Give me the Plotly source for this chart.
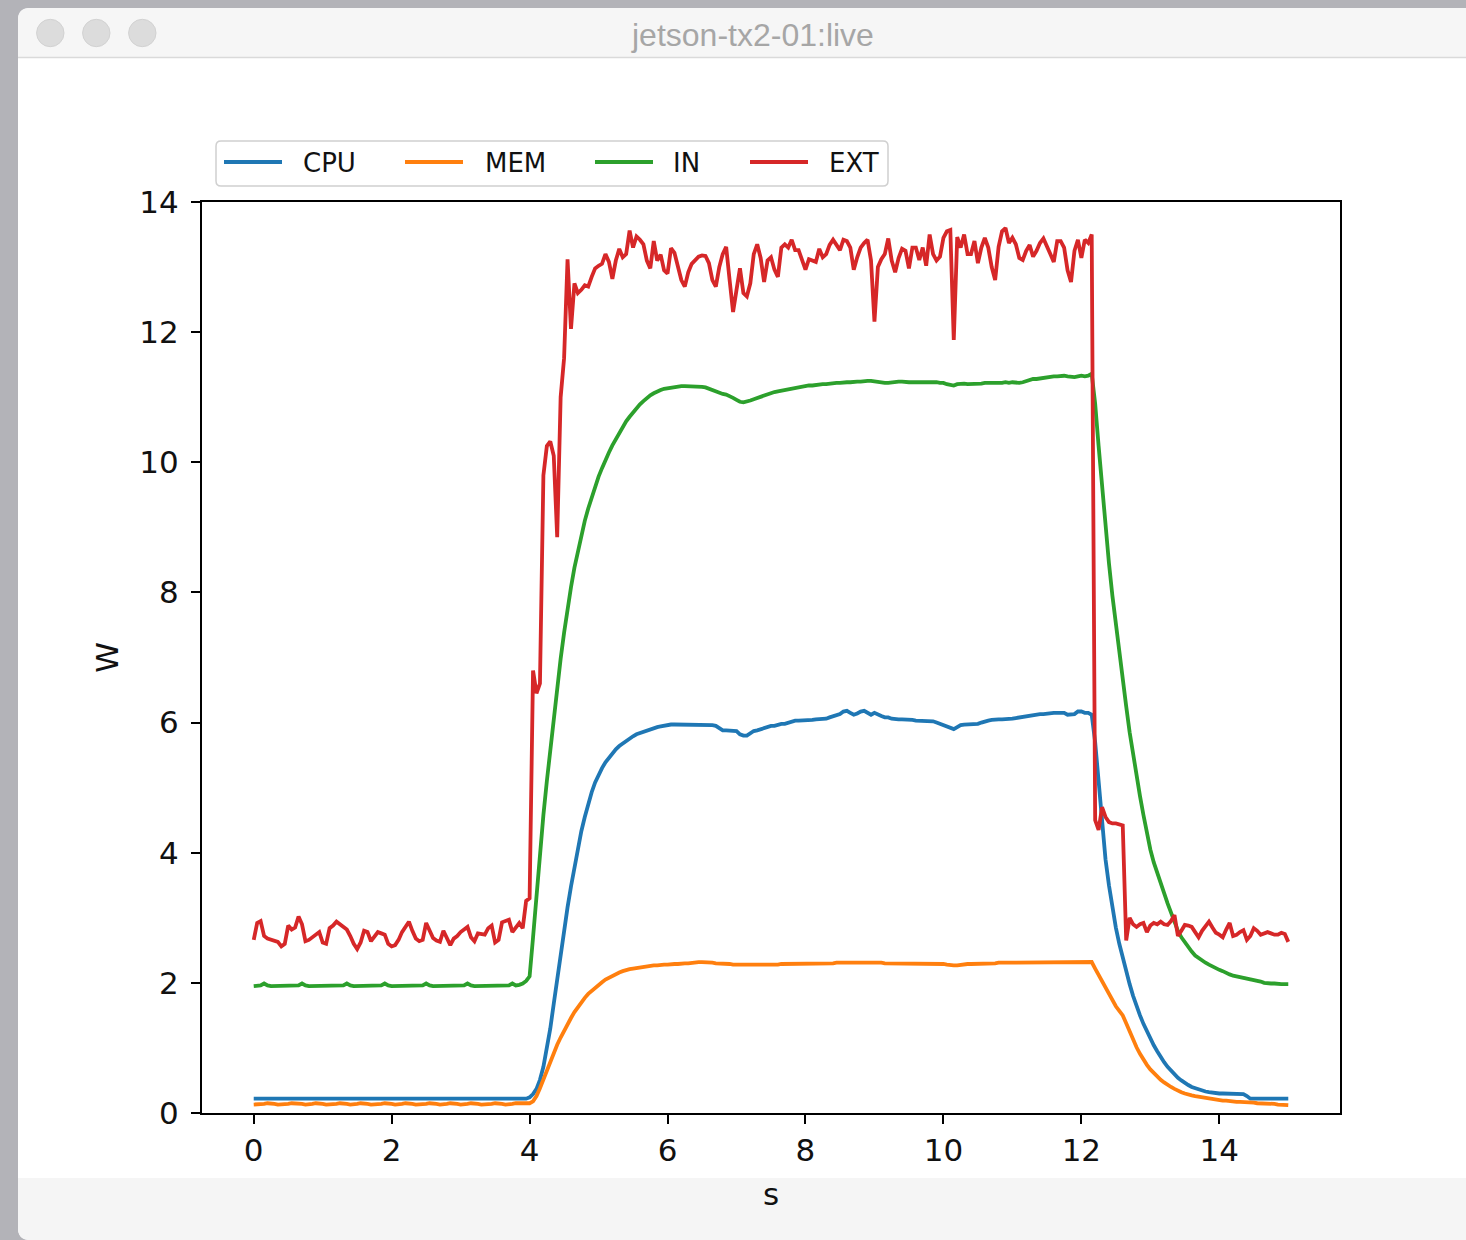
import plotly.graph_objects as go

FIG_W, FIG_H = 1466, 1240

# sample times (s), one sample every 0.05 s from 0 to 15
t = [round(0.05 * i, 2) for i in range(301)]

cpu = [
    0.22, 0.22, 0.22, 0.22, 0.22, 0.22, 0.22, 0.22, 0.22, 0.22, 0.22, 0.22, 0.22, 0.22, 0.22, 0.22, 0.22, 0.22, 0.22, 0.22,
    0.22, 0.22, 0.22, 0.22, 0.22, 0.22, 0.22, 0.22, 0.22, 0.22, 0.22, 0.22, 0.22, 0.22, 0.22, 0.22, 0.22, 0.22, 0.22, 0.22,
    0.22, 0.22, 0.22, 0.22, 0.22, 0.22, 0.22, 0.22, 0.22, 0.22, 0.22, 0.22, 0.22, 0.22, 0.22, 0.22, 0.22, 0.22, 0.22, 0.22,
    0.22, 0.22, 0.22, 0.22, 0.22, 0.22, 0.22, 0.22, 0.22, 0.22, 0.22, 0.22, 0.22, 0.22, 0.22, 0.22, 0.22, 0.22, 0.22, 0.22,
    0.24, 0.29, 0.37, 0.51, 0.71, 0.98, 1.3, 1.68, 2.06, 2.45, 2.82, 3.16, 3.48, 3.79, 4.08, 4.33, 4.55, 4.75, 4.93, 5.08,
    5.2, 5.3, 5.39, 5.46, 5.53, 5.59, 5.64, 5.68, 5.72, 5.76, 5.79, 5.82, 5.84, 5.86, 5.88, 5.9, 5.92, 5.93, 5.94, 5.95,
    5.97, 5.97, 5.97, 5.97, 5.97, 5.97, 5.97, 5.97, 5.97, 5.97, 5.97, 5.97, 5.97, 5.96, 5.95, 5.92, 5.88, 5.88, 5.88, 5.88,
    5.87, 5.82, 5.8, 5.8, 5.84, 5.87, 5.88, 5.9, 5.92, 5.93, 5.95, 5.95, 5.97, 5.98, 5.98, 6.0, 6.02, 6.03, 6.03, 6.03,
    6.03, 6.04, 6.04, 6.05, 6.05, 6.06, 6.06, 6.08, 6.1, 6.12, 6.13, 6.17, 6.18, 6.15, 6.12, 6.14, 6.17, 6.18, 6.15, 6.12,
    6.15, 6.12, 6.1, 6.08, 6.08, 6.06, 6.05, 6.05, 6.05, 6.05, 6.05, 6.04, 6.03, 6.03, 6.02, 6.02, 6.02, 6.02, 6.0, 5.98,
    5.97, 5.95, 5.93, 5.9, 5.93, 5.96, 5.97, 5.97, 5.98, 5.98, 5.98, 6.0, 6.02, 6.03, 6.04, 6.05, 6.05, 6.05, 6.05, 6.05,
    6.06, 6.07, 6.08, 6.08, 6.1, 6.1, 6.12, 6.13, 6.13, 6.13, 6.14, 6.14, 6.15, 6.15, 6.15, 6.15, 6.12, 6.12, 6.13, 6.17,
    6.17, 6.15, 6.15, 6.12, 5.7, 5.1, 4.45, 3.9, 3.5, 3.15, 2.85, 2.6, 2.38, 2.17, 1.98, 1.8, 1.64, 1.5, 1.37, 1.25,
    1.14, 1.04, 0.95, 0.86, 0.78, 0.71, 0.65, 0.59, 0.54, 0.5, 0.46, 0.43, 0.4, 0.38, 0.36, 0.34, 0.33, 0.32, 0.31, 0.3,
    0.3, 0.3, 0.3, 0.3, 0.3, 0.3, 0.3, 0.29, 0.26, 0.22, 0.22, 0.22, 0.22, 0.22, 0.22, 0.22, 0.22, 0.22, 0.22, 0.22,
    0.22,
]

mem = [
    0.13, 0.13, 0.14, 0.14, 0.15, 0.15, 0.14, 0.13, 0.13, 0.13, 0.14, 0.15, 0.15, 0.14, 0.14, 0.13, 0.13, 0.14, 0.15, 0.15,
    0.14, 0.13, 0.13, 0.13, 0.14, 0.15, 0.15, 0.14, 0.13, 0.13, 0.14, 0.15, 0.15, 0.14, 0.13, 0.13, 0.13, 0.14, 0.15, 0.15,
    0.14, 0.13, 0.13, 0.14, 0.15, 0.15, 0.14, 0.13, 0.13, 0.13, 0.14, 0.15, 0.15, 0.14, 0.13, 0.13, 0.14, 0.15, 0.15, 0.14,
    0.13, 0.13, 0.14, 0.15, 0.15, 0.14, 0.13, 0.13, 0.13, 0.14, 0.15, 0.15, 0.14, 0.13, 0.13, 0.14, 0.15, 0.15, 0.14, 0.14,
    0.15, 0.18, 0.26, 0.38, 0.52, 0.66, 0.8, 0.93, 1.05, 1.16, 1.27, 1.37, 1.46, 1.55, 1.63, 1.7, 1.77, 1.83, 1.88, 1.93,
    1.97, 2.01, 2.05, 2.08, 2.11, 2.14, 2.16, 2.18, 2.2, 2.21, 2.22, 2.23, 2.24, 2.25, 2.26, 2.26, 2.27, 2.27, 2.28, 2.28,
    2.28, 2.29, 2.29, 2.29, 2.3, 2.3, 2.3, 2.31, 2.31, 2.32, 2.32, 2.32, 2.31, 2.31, 2.3, 2.3, 2.29, 2.29, 2.29, 2.28,
    2.28, 2.28, 2.27, 2.27, 2.27, 2.28, 2.28, 2.28, 2.27, 2.28, 2.28, 2.28, 2.28, 2.29, 2.29, 2.29, 2.29, 2.29, 2.3, 2.3,
    2.3, 2.3, 2.3, 2.3, 2.3, 2.3, 2.3, 2.3, 2.3, 2.31, 2.31, 2.31, 2.32, 2.31, 2.32, 2.31, 2.31, 2.31, 2.31, 2.31,
    2.31, 2.31, 2.31, 2.3, 2.3, 2.3, 2.3, 2.3, 2.3, 2.3, 2.3, 2.3, 2.3, 2.3, 2.3, 2.3, 2.3, 2.3, 2.29, 2.29,
    2.29, 2.28, 2.27, 2.27, 2.27, 2.28, 2.28, 2.29, 2.29, 2.29, 2.3, 2.3, 2.3, 2.3, 2.3, 2.3, 2.31, 2.31, 2.31, 2.31,
    2.31, 2.31, 2.31, 2.31, 2.31, 2.31, 2.31, 2.31, 2.31, 2.31, 2.32, 2.32, 2.32, 2.32, 2.32, 2.32, 2.32, 2.32, 2.32, 2.32,
    2.32, 2.32, 2.32, 2.32, 2.22, 2.12, 2.02, 1.92, 1.82, 1.72, 1.64, 1.57, 1.5, 1.38, 1.25, 1.12, 1.01, 0.91, 0.82, 0.74,
    0.67, 0.61, 0.56, 0.51, 0.47, 0.43, 0.4, 0.37, 0.34, 0.32, 0.3, 0.28, 0.27, 0.26, 0.25, 0.24, 0.23, 0.22, 0.21, 0.2,
    0.2, 0.19, 0.19, 0.18, 0.18, 0.17, 0.17, 0.17, 0.16, 0.16, 0.16, 0.15, 0.15, 0.15, 0.14, 0.14, 0.14, 0.13, 0.13, 0.13,
    0.12,
]

inp = [
    1.95, 1.95, 1.96, 1.99, 1.96, 1.95, 1.95, 1.95, 1.95, 1.95, 1.95, 1.95, 1.95, 1.96, 1.99, 1.96, 1.95, 1.95, 1.95, 1.95,
    1.95, 1.95, 1.95, 1.95, 1.95, 1.95, 1.96, 1.99, 1.96, 1.95, 1.95, 1.95, 1.95, 1.95, 1.95, 1.95, 1.95, 1.96, 1.99, 1.96,
    1.95, 1.95, 1.95, 1.95, 1.95, 1.95, 1.95, 1.95, 1.95, 1.96, 1.99, 1.96, 1.95, 1.95, 1.95, 1.95, 1.95, 1.95, 1.95, 1.95,
    1.95, 1.96, 1.99, 1.96, 1.95, 1.95, 1.95, 1.95, 1.95, 1.95, 1.95, 1.95, 1.95, 1.95, 1.96, 1.99, 1.96, 1.97, 1.99, 2.03,
    2.1, 2.7, 3.38, 4.0, 4.58, 5.1, 5.6, 6.1, 6.55, 6.98, 7.38, 7.75, 8.08, 8.38, 8.64, 8.88, 9.1, 9.29, 9.46, 9.62,
    9.78, 9.91, 10.04, 10.15, 10.26, 10.36, 10.46, 10.55, 10.63, 10.7, 10.77, 10.83, 10.89, 10.94, 10.99, 11.03, 11.06, 11.09, 11.11, 11.13,
    11.14, 11.15, 11.16, 11.16, 11.17, 11.17, 11.17, 11.17, 11.17, 11.16, 11.16, 11.15, 11.13, 11.1, 11.08, 11.06, 11.05, 11.04, 11.02, 10.99,
    10.96, 10.93, 10.92, 10.93, 10.95, 10.97, 10.99, 11.01, 11.03, 11.05, 11.07, 11.08, 11.09, 11.1, 11.12, 11.13, 11.14, 11.15, 11.16, 11.17,
    11.17, 11.18, 11.18, 11.19, 11.19, 11.2, 11.2, 11.21, 11.21, 11.22, 11.22, 11.23, 11.23, 11.23, 11.24, 11.24, 11.24, 11.25, 11.25, 11.25,
    11.24, 11.24, 11.23, 11.22, 11.22, 11.23, 11.23, 11.24, 11.24, 11.23, 11.23, 11.23, 11.23, 11.24, 11.24, 11.24, 11.23, 11.23, 11.23, 11.22,
    11.22, 11.2, 11.19, 11.18, 11.2, 11.21, 11.21, 11.2, 11.2, 11.2, 11.21, 11.21, 11.22, 11.22, 11.21, 11.21, 11.22, 11.22, 11.23, 11.22,
    11.23, 11.22, 11.22, 11.23, 11.25, 11.27, 11.28, 11.28, 11.29, 11.3, 11.31, 11.31, 11.32, 11.32, 11.33, 11.33, 11.32, 11.31, 11.31, 11.32,
    11.33, 11.32, 11.33, 11.36, 10.9, 10.25, 9.6, 9.0, 8.45, 7.95, 7.5, 7.05, 6.65, 6.25, 5.85, 5.5, 5.17, 4.87, 4.58, 4.3,
    4.05, 3.85, 3.68, 3.53, 3.38, 3.22, 3.07, 2.93, 2.8, 2.7, 2.62, 2.55, 2.48, 2.42, 2.38, 2.34, 2.31, 2.28, 2.25, 2.23,
    2.2, 2.18, 2.15, 2.13, 2.11, 2.1, 2.08, 2.07, 2.06, 2.05, 2.04, 2.03, 2.02, 2.0, 1.99, 1.99, 1.99, 1.98, 1.98, 1.98,
    1.98,
]

ext = [
    2.66, 2.92, 2.95, 2.72, 2.68, 2.66, 2.64, 2.63, 2.56, 2.6, 2.88, 2.82, 2.85, 3.02, 2.9, 2.64, 2.66, 2.7, 2.74, 2.78,
    2.62, 2.6, 2.84, 2.88, 2.94, 2.9, 2.86, 2.82, 2.72, 2.6, 2.52, 2.62, 2.8, 2.78, 2.64, 2.7, 2.78, 2.76, 2.74, 2.6,
    2.56, 2.58, 2.66, 2.78, 2.85, 2.94, 2.8, 2.68, 2.64, 2.66, 2.92, 2.82, 2.69, 2.65, 2.63, 2.8, 2.7, 2.58, 2.68, 2.72,
    2.78, 2.82, 2.86, 2.7, 2.64, 2.76, 2.75, 2.74, 2.84, 2.88, 2.62, 2.66, 2.93, 2.95, 2.97, 2.78, 2.86, 2.92, 2.84, 3.26,
    3.3, 6.8, 6.45, 6.6, 9.8, 10.25, 10.32, 10.1, 8.85, 11.0, 11.6, 13.12, 12.05, 12.75, 12.6, 12.65, 12.72, 12.7, 12.85, 12.98,
    13.02, 13.05, 13.2, 13.08, 12.82, 13.1, 13.28, 13.15, 13.2, 13.56, 13.3, 13.47, 13.42, 13.35, 13.1, 12.98, 13.4, 13.1, 13.19, 12.95,
    12.9, 13.29, 13.22, 13.0, 12.8, 12.7, 12.92, 13.05, 13.11, 13.16, 13.18, 13.17, 13.06, 12.8, 12.7, 13.0, 13.2, 13.31, 12.8, 12.31,
    12.65, 12.98, 12.6, 12.55, 12.75, 13.2, 13.35, 13.14, 12.77, 13.1, 13.15, 12.96, 12.85, 13.3, 13.35, 13.3, 13.42, 13.26, 13.26, 13.1,
    12.96, 13.12, 13.1, 13.08, 13.28, 13.15, 13.2, 13.34, 13.42, 13.33, 13.26, 13.42, 13.4, 13.3, 12.96, 13.15, 13.3, 13.37, 13.42, 13.1,
    12.16, 13.0, 13.12, 13.2, 13.44, 13.1, 12.92, 13.14, 13.28, 13.25, 12.98, 13.3, 13.3, 13.11, 13.3, 13.02, 13.5, 13.2, 13.1, 13.16,
    13.45, 13.55, 13.57, 11.88, 13.46, 13.3, 13.5, 13.2, 13.2, 13.4, 13.06, 13.3, 13.45, 13.3, 13.0, 12.8, 13.31, 13.55, 13.6, 13.37,
    13.45, 13.35, 13.14, 13.11, 13.25, 13.34, 13.16, 13.25, 13.37, 13.44, 13.3, 13.2, 13.08, 13.4, 13.4, 13.3, 12.95, 12.77, 13.25, 13.42,
    13.14, 13.42, 13.37, 13.5, 4.5, 4.35, 4.7, 4.55, 4.47, 4.45, 4.45, 4.44, 4.42, 2.65, 3.0, 2.9, 2.86, 2.9, 2.92, 2.78,
    2.88, 2.92, 2.9, 2.94, 2.9, 2.89, 2.95, 3.04, 2.72, 2.8, 2.89, 2.88, 2.86, 2.78, 2.7, 2.8, 2.88, 2.94, 2.85, 2.77,
    2.74, 2.7, 2.82, 2.92, 2.72, 2.74, 2.78, 2.81, 2.66, 2.72, 2.84, 2.8, 2.74, 2.76, 2.78, 2.76, 2.74, 2.74, 2.77, 2.75,
    2.63,
]

series_names = ["CPU", "MEM", "IN", "EXT"]
series_values = [cpu, mem, inp, ext]
series_colors = ["#1f77b4", "#ff7f0e", "#2ca02c", "#d62728"]

x_ticks = [0, 2, 4, 6, 8, 10, 12, 14]
y_ticks = [0, 2, 4, 6, 8, 10, 12, 14]

for v in series_values:
    assert len(v) == len(t), len(v)


def px(x):
    return x / FIG_W


def py(y):
    return 1 - y / FIG_H


fig = go.Figure()
for name, vals, col in zip(series_names, series_values, series_colors):
    fig.add_trace(go.Scatter(x=t, y=vals, mode="lines", name=name, showlegend=False,
                             line=dict(color=col, width=3.8)))

shapes = []
# window body (rounded top-left corner)
shapes.append(dict(type="path", xref="paper", yref="paper", layer="below",
                   path=f"M {px(18)},{py(1228)} L {px(18)},{py(20)} Q {px(18)},{py(8)} {px(30)},{py(8)} "
                        f"L {px(1466)},{py(8)} L {px(1466)},{py(1240)} L {px(30)},{py(1240)} "
                        f"Q {px(18)},{py(1240)} {px(18)},{py(1228)} Z",
                   fillcolor="white", line=dict(width=0)))
# bottom light strip
shapes.append(dict(type="path", xref="paper", yref="paper", layer="below",
                   path=f"M {px(18)},{py(1178)} L {px(1466)},{py(1178)} L {px(1466)},{py(1240)} "
                        f"L {px(30)},{py(1240)} Q {px(18)},{py(1240)} {px(18)},{py(1228)} Z",
                   fillcolor="#f5f5f5", line=dict(width=0)))
# title bar
shapes.append(dict(type="path", xref="paper", yref="paper", layer="below",
                   path=f"M {px(18)},{py(57)} L {px(18)},{py(20)} Q {px(18)},{py(8)} {px(30)},{py(8)} "
                        f"L {px(1466)},{py(8)} L {px(1466)},{py(57)} Z",
                   fillcolor="#f6f6f6", line=dict(width=0)))
shapes.append(dict(type="line", xref="paper", yref="paper", layer="below",
                   x0=px(18), x1=px(1466), y0=py(57.5), y1=py(57.5),
                   line=dict(color="#dadada", width=1.5)))
# traffic lights
for cx in (50.3, 96.3, 142.3):
    shapes.append(dict(type="circle", xref="paper", yref="paper", layer="below",
                       x0=px(cx - 13.7), x1=px(cx + 13.7), y0=py(33 + 13.7), y1=py(33 - 13.7),
                       fillcolor="#dcdcdc", line=dict(color="#d2d2d2", width=1)))

# legend box (matplotlib-style, rounded corners)
lx0, lx1, ly0, ly1, r = 216, 888, 141, 186, 5
shapes.append(dict(type="path", xref="paper", yref="paper", layer="above",
                   path=(f"M {px(lx0 + r)},{py(ly0)} L {px(lx1 - r)},{py(ly0)} Q {px(lx1)},{py(ly0)} {px(lx1)},{py(ly0 + r)} "
                         f"L {px(lx1)},{py(ly1 - r)} Q {px(lx1)},{py(ly1)} {px(lx1 - r)},{py(ly1)} "
                         f"L {px(lx0 + r)},{py(ly1)} Q {px(lx0)},{py(ly1)} {px(lx0)},{py(ly1 - r)} "
                         f"L {px(lx0)},{py(ly0 + r)} Q {px(lx0)},{py(ly0)} {px(lx0 + r)},{py(ly0)} Z"),
                   fillcolor="white", line=dict(color="#d0d0d0", width=1.5)))
legend_handle_x = [224, 405, 595, 750]
legend_text_x = [301, 483, 671, 827]
legend_y = 162
annotations = []
for name, col, hx, tx in zip(series_names, series_colors, legend_handle_x, legend_text_x):
    shapes.append(dict(type="line", xref="paper", yref="paper", layer="above",
                       x0=px(hx), x1=px(hx + 58), y0=py(legend_y), y1=py(legend_y),
                       line=dict(color=col, width=3.8)))
    annotations.append(dict(text=name, xref="paper", yref="paper", x=px(tx), y=py(legend_y + 1),
                            xanchor="left", yanchor="middle", showarrow=False,
                            font=dict(family="DejaVu Sans", size=26, color="#111111")))

annotations.append(dict(text="jetson-tx2-01:live", xref="paper", yref="paper", x=px(752), y=py(35),
                        xanchor="center", yanchor="middle", showarrow=False,
                        font=dict(family="Liberation Sans", size=32, color="#a6a6a6")))

axis_common = dict(showgrid=False, zeroline=False, showline=True, linewidth=2, linecolor="black",
                   mirror=True, ticks="outside", ticklen=9, tickwidth=2, tickcolor="black",
                   automargin=False,
                   tickfont=dict(family="DejaVu Sans", size=31, color="#111111"))

fig.update_layout(
    width=FIG_W, height=FIG_H,
    margin=dict(l=0, r=0, t=0, b=0, pad=0, autoexpand=False),
    paper_bgcolor="#b3b3b8",
    plot_bgcolor="white",
    shapes=shapes,
    annotations=annotations,
    font=dict(family="DejaVu Sans", color="#111111"),
    xaxis=dict(domain=[px(202), px(1340)], range=[-0.75, 15.75], tickvals=x_ticks,
               title=dict(text="s", font=dict(family="DejaVu Sans", size=31, color="#111111"), standoff=16),
               **axis_common),
    yaxis=dict(domain=[py(1113), py(202)], range=[0, 14], tickvals=y_ticks, ticklabelstandoff=6,
               title=dict(text="W", font=dict(family="DejaVu Sans", size=31, color="#111111"), standoff=11),
               **axis_common),
    showlegend=False,
)

page_script = (
    "document.documentElement.style.margin='0px';"
    "document.body.style.margin='0px';"
    "document.body.style.background='#b3b3b8';"
)

fig.write_html("out.html", config={"displayModeBar": False}, post_script=page_script)
